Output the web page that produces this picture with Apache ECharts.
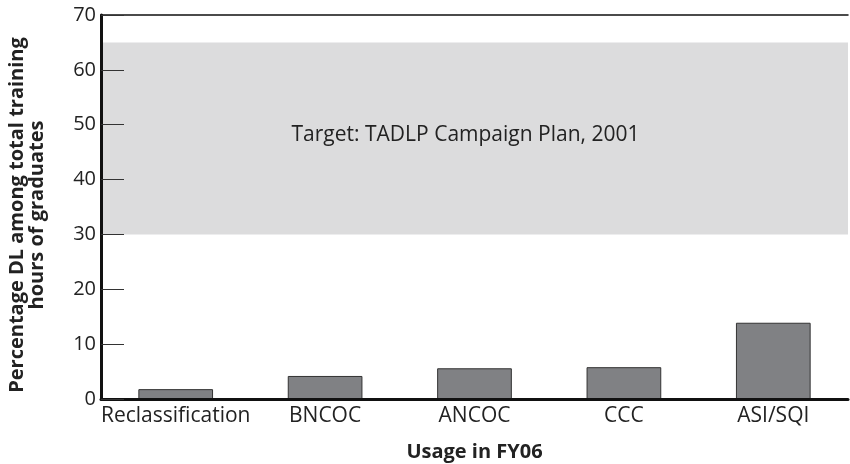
<!DOCTYPE html>
<html><head><meta charset="utf-8">
<script src="https://cdn.jsdelivr.net/npm/echarts@6/dist/echarts.min.js"></script>
<style>html,body{margin:0;padding:0;background:#fff}#c{width:850px;height:464px}</style>
</head><body><div id="c"></div>
<script>
const categories = ['Reclassification', 'BNCOC', 'ANCOC', 'CCC', 'ASI/SQI'];
const values = [1.8, 4.2, 5.6, 5.8, 13.9];
const targetRange = [30, 65];
const targetLabel = 'Target: TADLP Campaign Plan, 2001';
const yTicks = [0, 10, 20, 30, 40, 50, 60, 70];

const font = 'Open Sans';
const chart = echarts.init(document.getElementById('c'));
chart.setOption({
  animation: false,
  grid: { left: 101, right: 2, top: 15, bottom: 65, containLabel: false, outerBoundsMode: 'none' },
  xAxis: [{
    type: 'category', data: categories, z: 10,
    axisLine: { lineStyle: { color: '#111', width: 3 } },
    axisTick: { show: false },
    axisLabel: { color: '#222', fontSize: 21, fontFamily: font, margin: 7, interval: 0 },
    name: 'Usage in FY06', nameLocation: 'middle', nameGap: 43,
    nameTextStyle: { color: '#222', fontSize: 20, fontWeight: 'bold', fontFamily: font }
  }, {
    type: 'category', data: categories, position: 'top', z: 10,
    axisLine: { lineStyle: { color: '#111', width: 1.5 } },
    axisTick: { show: false }, axisLabel: { show: false }
  }],
  yAxis: {
    type: 'value', min: 0, max: 70, interval: 10, z: 10,
    axisLine: { show: true, lineStyle: { color: '#111', width: 3 } },
    axisTick: { show: true, inside: true, length: 23, lineStyle: { color: '#333', width: 1 } },
    axisLabel: { color: '#222', fontSize: 20, fontFamily: font, margin: 5,
      formatter: v => yTicks.includes(v) ? String(v) : '' },
    splitLine: { show: false },
    name: 'Percentage DL among total training\nhours of graduates',
    nameLocation: 'middle', nameGap: 54,
    nameTextStyle: { color: '#222', fontSize: 20, fontWeight: 'bold', fontFamily: font, lineHeight: 20, padding: [0, 16, 0, 0] }
  },
  series: [{
    type: 'bar', data: values, barWidth: '50%',
    itemStyle: { color: '#808184', borderColor: '#333', borderWidth: 1 },
    markArea: {
      silent: true,
      itemStyle: { color: '#dcdcdd' },
      label: { show: true, position: 'inside', offset: [-9, -3], color: '#222', fontSize: 21, fontFamily: font },
      data: [[{ yAxis: targetRange[0], name: targetLabel }, { yAxis: targetRange[1] }]]
    },
    z: 3
  }]
});
</script></body></html>
